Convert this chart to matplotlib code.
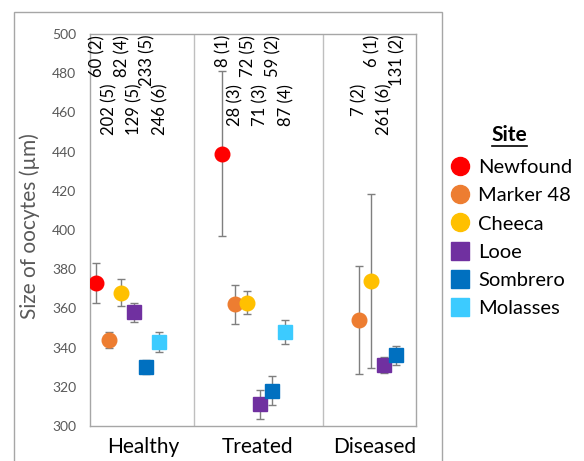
import matplotlib.pyplot as plt
from matplotlib.lines import Line2D
from matplotlib.patches import Rectangle

plt.rcParams['font.family'] = ['Lato', 'DejaVu Sans']

# --- DATA ---
groups = ['Healthy', 'Treated', 'Diseased']
sites = ['Newfound', 'Marker 48', 'Cheeca', 'Looe', 'Sombrero', 'Molasses']
colors = ['#FF0000', '#ED7D31', '#FFC000', '#7030A0', '#0070C0', '#3CCBFF']
markers = ['o', 'o', 'o', 's', 's', 's']

# mean size, error (+/-) and label per group, per site (None = no data)
means = {
    'Healthy':  [373, 344, 368, 358, 330, 343],
    'Treated':  [439, 362, 363, 311, 318, 348],
    'Diseased': [None, 354, 374, 331, 336, None],
}
errors = {
    'Healthy':  [10, 4, 7, 5, 3.5, 5],
    'Treated':  [42, 10, 6, 7.5, 7.5, 6],
    'Diseased': [None, 27.5, 44.5, 4, 5, None],
}
labels = {
    'Healthy':  ['60 (2)', '202 (5)', '82 (4)', '129 (5)', '233 (5)', '246 (6)'],
    'Treated':  ['8 (1)', '28 (3)', '72 (5)', '71 (3)', '59 (2)', '87 (4)'],
    'Diseased': [None, '7 (2)', '6 (1)', '261 (6)', '131 (2)', None],
}

# layout of the x axis
group_start = [6, 132, 256]
step = 12.6
separators = [104, 233]
label_pos = [53, 168, 285]

fig = plt.figure(figsize=(5.84, 4.61), dpi=100)
ax = fig.add_axes([90/584, 35/461, 326/584, 392/461])

for g, grp in enumerate(groups):
    for i, site in enumerate(sites):
        m = means[grp][i]
        if m is None:
            continue
        x = group_start[g] + i * step
        ax.errorbar(x, m, yerr=errors[grp][i], fmt='none', ecolor='#7f7f7f',
                    elinewidth=1, capsize=3, capthick=1, zorder=2)
        ax.plot(x, m, marker=markers[i], color=colors[i], markersize=10.5,
                markeredgecolor=colors[i], linestyle='none', zorder=3)
        # alternate label rows: top row at 500, second row at 475
        ytop = 500 if i % 2 == 0 else 475
        ax.text(x + 1, ytop - 0.5, labels[grp][i], rotation=90, ha='center',
                va='top', fontsize=12, color='black')

for s in separators:
    ax.axvline(s, color='#bfbfbf', lw=1, zorder=1)

ax.set_xlim(0, 326)
ax.set_ylim(300, 500)
ax.set_yticks(range(300, 501, 20))
ax.set_xticks(label_pos)
ax.set_xticklabels(groups, fontsize=15)
ax.tick_params(axis='both', length=0)
ax.tick_params(axis='y', labelsize=10, labelcolor='#595959', pad=10)
ax.tick_params(axis='x', pad=8)
for sp in ax.spines.values():
    sp.set_color('#a6a6a6')
    sp.set_linewidth(1)
ax.set_ylabel('Size of oocytes (µm)', fontsize=15, color='#595959')
ax.yaxis.set_label_coords(-0.153, 0.51)

# outer frame
fig.patches.append(Rectangle((14/584, -0.05), 428/584, 1.05 - 12/461,
                             transform=fig.transFigure, fill=False,
                             edgecolor='#a6a6a6', lw=1))

# legend
fig.text(509/584, 1 - 135/461, 'Site', fontsize=15, fontweight='bold',
         ha='center', va='center')
fig.add_artist(Line2D([492/584, 527/584], [1 - 146/461, 1 - 146/461],
                      color='black', lw=1.2, transform=fig.transFigure))
handles = [Line2D([], [], marker=markers[i], color=colors[i], linestyle='none',
                  markersize=13) for i in range(len(sites))]
fig.legend(handles, sites, loc='upper left', bbox_to_anchor=(440/584, 1 - 151/461),
           frameon=False, fontsize=14.5, handletextpad=0.3, labelspacing=0.55,
           handlelength=1.2, borderaxespad=0)

fig.savefig('out.png', dpi=100)
